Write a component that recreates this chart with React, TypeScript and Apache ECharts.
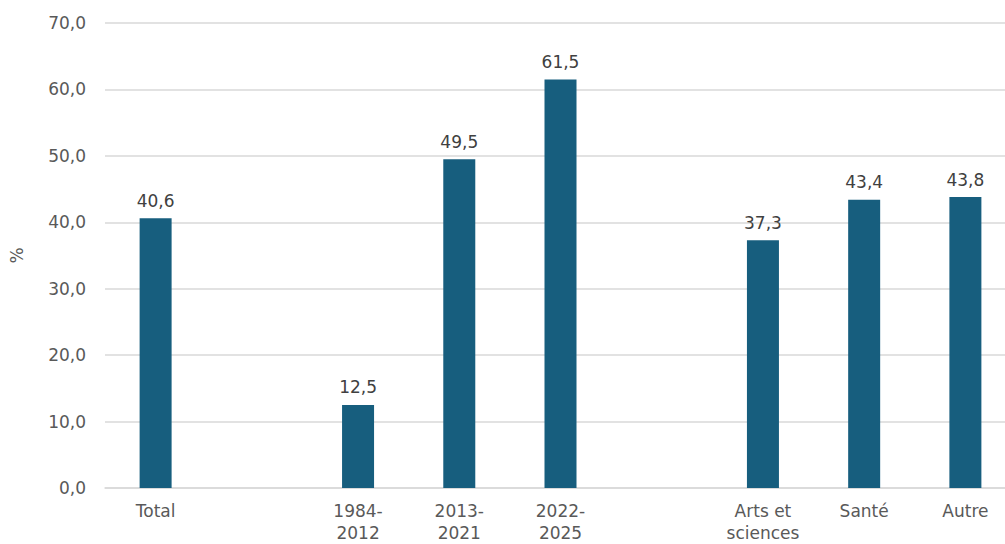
import React, { useEffect, useRef } from "react";
import * as echarts from "echarts";

const categories = ["Total", "", "1984-\n2012", "2013-\n2021", "2022-\n2025", "", "Arts et\nsciences", "Santé", "Autre"];
const values: (number | null)[] = [40.6, null, 12.5, 49.5, 61.5, null, 37.3, 43.4, 43.8];
const yMin = 0;
const yMax = 70;
const yInterval = 10;
const yAxisName = "%";

const fmt = (v: number) => v.toFixed(1).replace(".", ",");

export default function App() {
  const ref = useRef<HTMLDivElement>(null);
  useEffect(() => {
    if (!ref.current) return;
    const chart = echarts.init(ref.current, null, { renderer: "svg" });
    const font = "'DejaVu Sans', 'Noto Sans', sans-serif";
    chart.setOption({
      animation: false,
      textStyle: { fontFamily: font },
      grid: { left: 100.5, right: 0, top: 23, bottom: 54, containLabel: false },
      xAxis: {
        type: "category",
        data: categories,
        axisTick: { show: false },
        axisLine: { lineStyle: { color: "#d9d9d9", width: 1.5 } },
        axisLabel: {
          color: "#595959",
          fontSize: 17,
          fontFamily: font,
          lineHeight: 22,
          margin: 12,
          interval: 0,
        },
      },
      yAxis: {
        type: "value",
        min: yMin,
        max: yMax,
        interval: yInterval,
        name: yAxisName,
        nameLocation: "middle",
        nameGap: 80,
        nameRotate: 90,
        nameTextStyle: { color: "#595959", fontSize: 17, fontFamily: font },
        axisLine: { show: false },
        axisTick: { show: false },
        splitLine: { lineStyle: { color: "#d9d9d9", width: 1.5 } },
        axisLabel: {
          color: "#595959",
          fontSize: 17,
          fontFamily: font,
          margin: 19,
          formatter: (v: number) => fmt(v),
        },
      },
      series: [
        {
          type: "bar",
          data: values,
          barWidth: 32,
          itemStyle: { color: "#175e7e" },
          label: {
            show: true,
            position: "top",
            distance: 9,
            color: "#404040",
            fontSize: 17,
            fontFamily: font,
            formatter: (p: any) => (p.value == null ? "" : fmt(p.value)),
          },
        },
      ],
    });
    return () => chart.dispose();
  }, []);
  return (
    <div
      ref={ref}
      style={{ position: "fixed", left: 0, top: 0, width: 1015.5, height: 544, background: "#fff" }}
    />
  );
}
